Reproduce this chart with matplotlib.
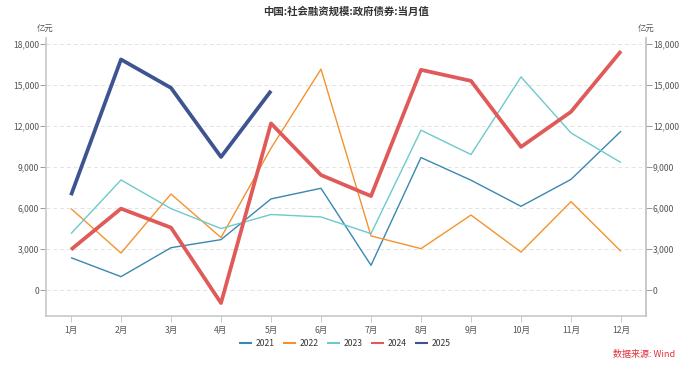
import matplotlib.pyplot as plt
from matplotlib.ticker import FuncFormatter

plt.rcParams['font.family'] = ['Noto Sans CJK SC', 'DejaVu Sans']

# 数据（单位：亿元）
months = ['1月', '2月', '3月', '4月', '5月', '6月', '7月', '8月', '9月', '10月', '11月', '12月']
v2021 = [2370, 980, 3100, 3690, 6670, 7450, 1810, 9700, 8040, 6130, 8100, 11630]
v2022 = [5960, 2710, 7030, 3840, 10380, 16170, 3960, 3030, 5490, 2780, 6470, 2830]
v2023 = [4130, 8060, 5960, 4500, 5530, 5350, 4130, 11700, 9920, 15600, 11500, 9330]
v2024 = [2960, 5960, 4570, -950, 12200, 8420, 6880, 16120, 15310, 10480, 13050, 17490]
v2025 = [6940, 16880, 14800, 9740, 14580]
series = [('2021', v2021), ('2022', v2022), ('2023', v2023), ('2024', v2024), ('2025', v2025)]
colors = ['#3a87b2', '#f5922f', '#6ccacb', '#e05a5a', '#3e5490']
widths = [1.0, 1.0, 1.0, 2.7, 2.7]

fig = plt.figure(figsize=(6.93, 3.67), dpi=100)
ax = fig.add_axes([46 / 693, 1 - 316 / 367, 600 / 693, 278 / 367])

x = list(range(len(months)))
for (name, vals), c, lw in zip(series, colors, widths):
    ax.plot(x[:len(vals)], vals, color=c, lw=lw, label=name, solid_capstyle='butt')

ax.set_xlim(-0.5, 11.5)
ax.set_ylim(-1900, 18450)
ax.set_xticks(x)
ax.set_xticklabels(months)
yt = [0, 3000, 6000, 9000, 12000, 15000, 18000]
ax.set_yticks(yt)
ax.yaxis.set_major_formatter(FuncFormatter(lambda v, p: f'{int(v):,}'))
ax.grid(axis='y', color='#e3e3e3', ls=(0, (4, 3)), lw=0.7)
ax.set_axisbelow(True)

ax.spines['top'].set_visible(False)
for s in ['left', 'right', 'bottom']:
    ax.spines[s].set_color('#c8c8c8')
    ax.spines[s].set_linewidth(1.2)
ax.tick_params(axis='both', labelsize=6.2, colors='#555555', length=4, width=0.7)
ax.tick_params(axis='x', color='#c8c8c8', pad=3)
ax.tick_params(axis='y', color='#999999', pad=1)

# 右侧坐标轴
ax2 = ax.twinx()
ax2.set_ylim(ax.get_ylim())
ax2.set_yticks(yt)
ax2.yaxis.set_major_formatter(FuncFormatter(lambda v, p: f'{int(v):,}'))
for s in ['top', 'left', 'bottom']:
    ax2.spines[s].set_visible(False)
ax2.spines['right'].set_color('#c8c8c8')
ax2.spines['right'].set_linewidth(1.2)
ax2.tick_params(axis='y', labelsize=6.2, colors='#555555', length=4, width=0.7, pad=1)
ax2.tick_params(axis='y', color='#999999')

fig.text(0.5, 1 - 12 / 367, '中国:社会融资规模:政府债券:当月值', ha='center', va='center',
         fontsize=7.5, fontweight='bold', color='#333333')
fig.text(45 / 693, 1 - 28 / 367, '亿元', ha='center', va='center', fontsize=6, color='#555555')
fig.text(646 / 693, 1 - 28 / 367, '亿元', ha='center', va='center', fontsize=6, color='#555555')

ax.legend(loc='center', bbox_to_anchor=(345 / 693, 1 - 344 / 367), bbox_transform=fig.transFigure,
          ncol=5, frameon=False, fontsize=6.2, handlelength=1.5, handletextpad=0.4,
          columnspacing=1.0, labelcolor='#333333')
for line in ax.get_legend().get_lines():
    line.set_linewidth(1.5)

fig.text(675 / 693, 1 - 355 / 367, '数据来源: Wind', ha='right', va='center', fontsize=6.5, color='#e0303a')

fig.savefig('out.png', dpi=100)
